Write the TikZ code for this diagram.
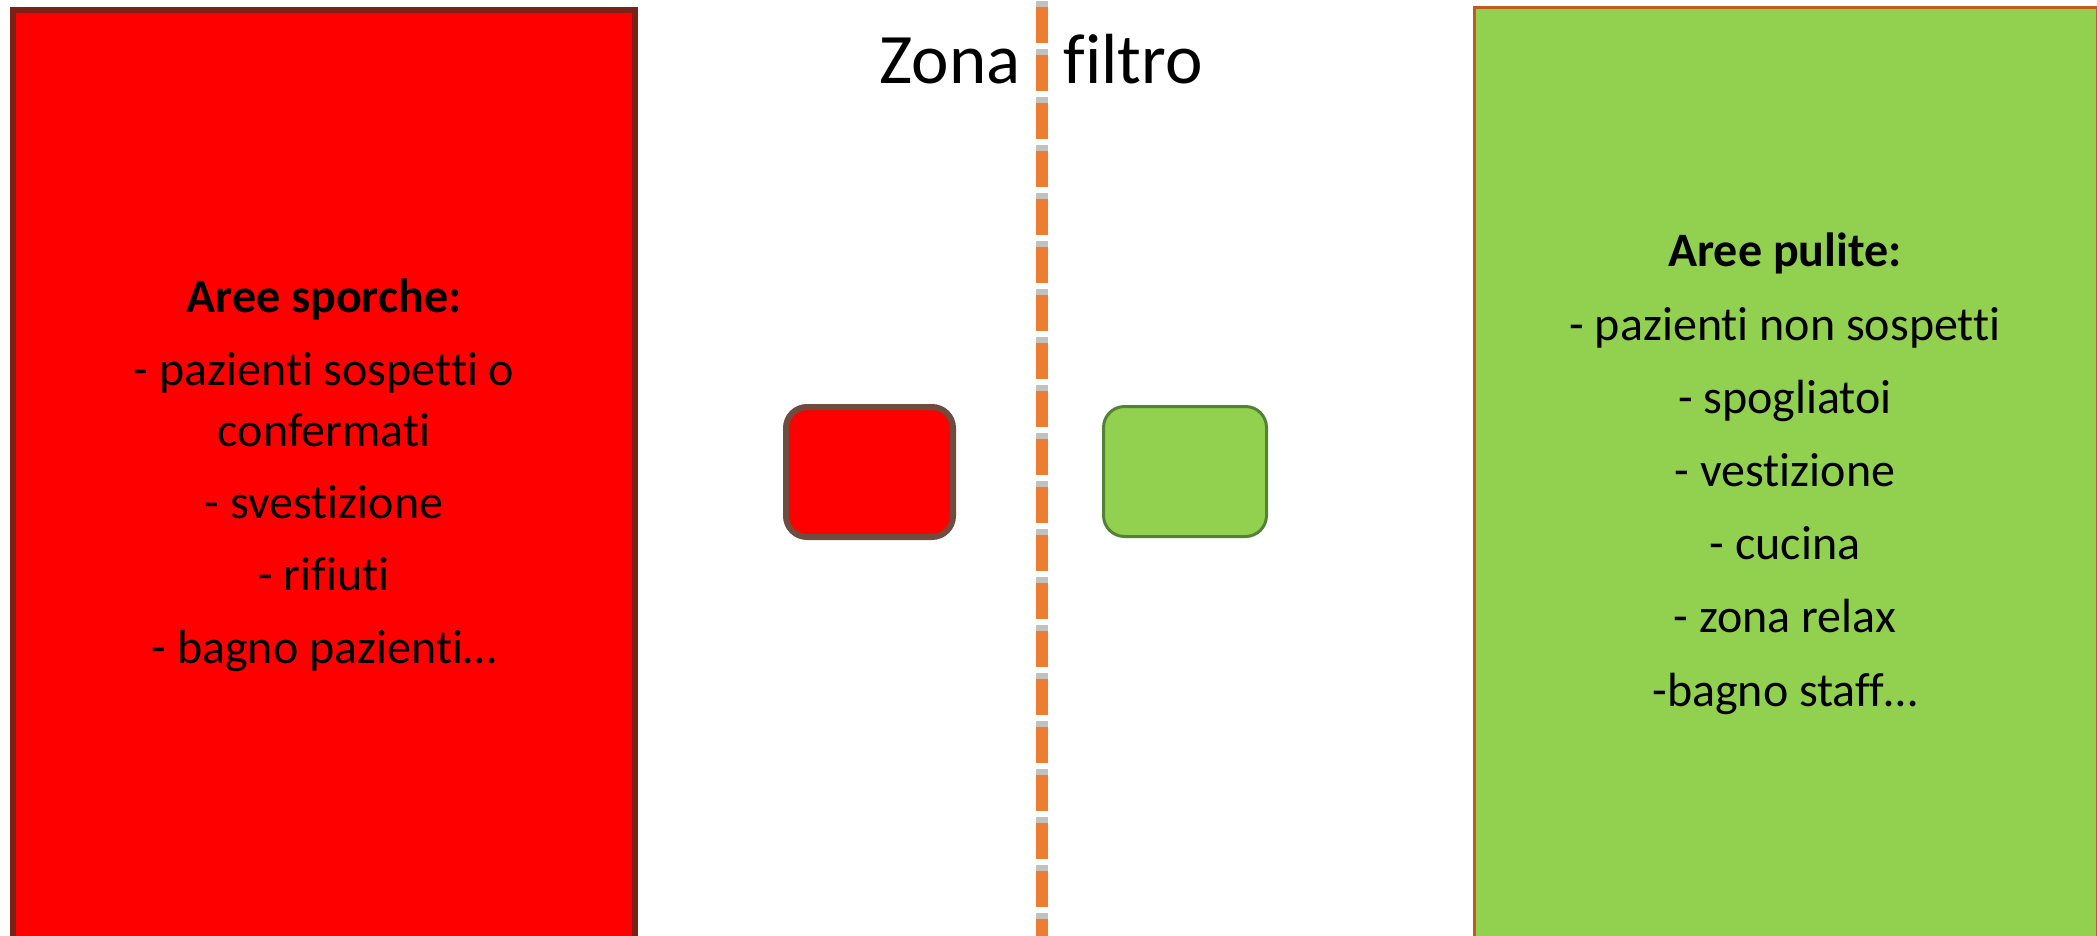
\documentclass[tikz,border=0pt]{standalone}
\usepackage{fontspec}
\setmainfont{Carlito}[Ligatures=NoCommon]
\definecolor{dirtyfill}{RGB}{255,0,0}
\definecolor{dirtyedge}{RGB}{122,33,24}
\definecolor{smalledge}{RGB}{110,76,62}
\definecolor{cleanfill}{RGB}{146,208,80}
\definecolor{cleanedge}{RGB}{190,92,32}
\definecolor{smallgreenedge}{RGB}{84,130,53}
\definecolor{filterline}{RGB}{237,125,49}
\tikzset{
  areabox/.style={line join=miter},
  listline/.style={anchor=base, inner sep=0pt, font=\fontsize{48}{58}\selectfont},
  listhead/.style={listline, font=\fontsize{48}{58}\selectfont\bfseries},
  doorbox/.style={rounded corners=21pt},
  dashes/.style={line width=12pt, dash pattern=on 36pt off 12pt},
}
\begin{document}
\begin{tikzpicture}[x=1pt,y=-1pt]
  \useasboundingbox (0,0) rectangle (2097,935);
  \begin{scope}
    \clip (0,0) rectangle (2097,935);
    % dirty area
    \draw[areabox, fill=dirtyfill, draw=dirtyedge, line width=6pt]
      (13,9.5) rectangle (635,960);
    % clean area
    \draw[areabox, fill=cleanfill, draw=cleanedge, line width=3pt]
      (1474.5,7.5) rectangle (2097,960);
    % filter boundary: soft shadow, then the orange dashes
    \coordinate (st) at (1042,1);
    \coordinate (lt) at (1042,7);
    \coordinate (lb) at (1042,940);
    \draw[dashes, draw=black!35, opacity=0.7] (st) -- (lb);
    \draw[dashes, draw=filterline] (lt) -- (lb);
  \end{scope}

  \node[anchor=base, inner sep=0pt, font=\fontsize{71}{84}\selectfont]
    (title) at (1041,83) {Zona\hspace{43pt}filtro};

  % small doors on either side of the boundary
  \draw[doorbox, fill=dirtyfill, draw=smalledge, line width=6pt]
    (786,407) rectangle (953,537);
  \draw[doorbox, fill=cleanfill, draw=smallgreenedge, line width=3pt]
    (1103.5,406.5) rectangle (1266.5,536.5);

  % dirty area list
  \node[listhead] (d0) at (324,312) {Aree sporche:};
  \node[listline] (d1) at (324,385) {- pazienti sospetti o};
  \node[listline] (d2) at (324,446) {confermati};
  \node[listline] (d3) at (324,518) {- svestizione};
  \node[listline] (d4) at (324,590) {- rifiuti};
  \node[listline] (d5) at (324,663) {- bagno pazienti…};

  % clean area list
  \node[listhead] (c0) at (1785,266) {Aree pulite:};
  \node[listline] (c1) at (1785,340) {- pazienti non sospetti};
  \node[listline] (c2) at (1785,413) {- spogliatoi};
  \node[listline] (c3) at (1785,486) {- vestizione};
  \node[listline] (c4) at (1785,559) {- cucina};
  \node[listline] (c5) at (1785,632) {- zona relax};
  \node[listline] (c6) at (1785,706) {-bagno staff…};
\end{tikzpicture}
\end{document}
